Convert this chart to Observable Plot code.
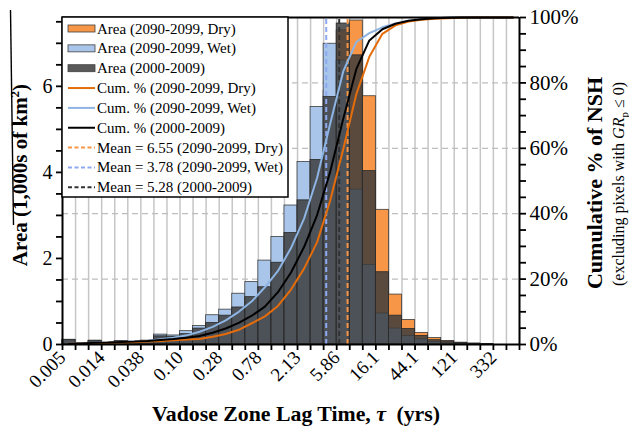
<!DOCTYPE html>
<html><head><meta charset="utf-8">
<script src="https://cdn.jsdelivr.net/npm/d3@7"></script>
<script src="https://cdn.jsdelivr.net/npm/@observablehq/plot@0.6"></script>
<style>
body{margin:0;background:#fff;}
#chart{position:relative;width:629px;height:427px;}
</style></head><body><div id="chart"></div>
<script>
// ---- data ----
const tickLabels = ["0.005","0.014","0.038","0.10","0.28","0.78","2.13","5.86","16.1","44.1","121","332"];
const areaDry  = [0.10,0.02,0.07,0.02,0.06,0.03,0.07,0.14,0.13,0.18,0.22,0.33,0.37,0.60,0.93,0.98,1.49,2.33,2.98,3.77,5.90,7.30,7.53,5.77,3.13,1.16,0.57,0.27,0.15,0.08,0.04,0.02,0.01,0,0];
const areaWet  = [0.10,0.02,0.09,0.02,0.08,0.03,0.09,0.23,0.21,0.31,0.43,0.68,0.81,1.18,1.45,1.95,2.50,3.23,4.24,5.52,6.99,6.60,3.60,1.85,0.72,0.37,0.20,0.12,0.06,0.03,0.02,0.01,0,0,0];
const areaBase = [0.11,0.03,0.08,0.03,0.07,0.04,0.08,0.19,0.18,0.24,0.37,0.50,0.67,0.86,1.10,1.33,1.90,2.59,3.35,4.29,5.75,7.46,6.72,4.03,1.68,0.67,0.36,0.20,0.10,0.07,0.04,0.02,0.01,0,0];
const cumDry  = [0.2,0.2,0.4,0.5,0.6,0.7,0.9,1.1,1.3,1.5,1.7,2.4,3.2,4.5,6.5,8.6,11.8,16.8,23.2,31.3,44.0,59.7,76.5,88.0,95.0,97.6,98.8,99.3,99.6,99.8,99.9,100,100,100,100];
const cumWet  = [0.2,0.3,0.5,0.6,0.8,0.9,1.1,1.6,2.1,2.8,3.9,5.4,7.4,10.0,13.2,17.5,22.5,29.5,38.5,51.0,67.5,83.5,92.5,95.2,97.0,98.2,99.0,99.5,99.8,99.9,100,100,100,100,100];
const cumBase = [0.2,0.3,0.5,0.6,0.8,0.9,1.1,1.4,1.7,2.1,2.6,3.6,4.9,6.6,8.8,11.6,16.0,22.0,29.8,39.6,52.8,69.0,84.2,93.0,96.4,98.1,99.0,99.5,99.8,99.9,100,100,100,100,100];
const meanDry = 6.55, meanWet = 3.78, meanBase = 5.28;
const legendLabels = ["Area (2090-2099, Dry)","Area (2090-2099, Wet)","Area (2000-2009)",
  "Cum. % (2090-2099, Dry)","Cum. % (2090-2099, Wet)","Cum. % (2000-2009)",
  "Mean = 6.55 (2090-2099, Dry)","Mean = 3.78 (2090-2099, Wet)","Mean = 5.28 (2000-2009)"];

// ---- setup ----
const nBins = areaBase.length;
const Y_MAX = 7.6;
const pct = p => p / 100 * Y_MAX;
const binPos = m => Math.log(m / 0.005) / Math.log(1.4) + 0.5; // bin-index position of a lag time
const serif = "'Liberation Serif','Times New Roman',serif";
const C = {dry:"#F79646", wet:"#A9C6EA", base:"rgba(60,60,60,0.84)",
           dryLine:"#E46C0A", wetLine:"#8DB4E2", baseLine:"#000",
           dryMean:"#F79646", wetMean:"#8EA9F2", baseMean:"#333"};
const rows = arr => arr.map((v, i) => ({i, v}));

const chart = Plot.plot({
  width: 629, height: 427,
  marginLeft: 62, marginRight: 110, marginTop: 17, marginBottom: 83,
  x: {type: "linear", domain: [0, nBins]},
  y: {domain: [0, Y_MAX]},
  style: {fontFamily: serif, background: "white", color: "black"},
  marks: [
    Plot.ruleX(d3.range(1, nBins), {stroke: "#c6c6c6", strokeWidth: 1.5}),
    Plot.ruleY([20, 40, 60, 80], {y: pct, stroke: "#bdbdbd", strokeWidth: 1.3, strokeDasharray: "6,4"}),
    Plot.rectY(rows(areaDry), {x1: "i", x2: d => d.i + 1, y: "v", fill: C.dry, stroke: "#3c3c3c", strokeWidth: 0.8}),
    Plot.rectY(rows(areaWet), {x1: "i", x2: d => d.i + 1, y: "v", fill: C.wet, stroke: "#3c3c3c", strokeWidth: 0.8}),
    Plot.rectY(rows(areaBase), {x1: "i", x2: d => d.i + 1, y: "v", fill: C.base, stroke: "#2a2a2a", strokeWidth: 0.8}),
    Plot.ruleX([meanWet], {x: binPos, y1: 0, y2: Y_MAX, stroke: C.wetMean, strokeWidth: 2, strokeDasharray: "5,3"}),
    Plot.ruleX([meanBase], {x: binPos, y1: 0, y2: Y_MAX, stroke: C.baseMean, strokeWidth: 2, strokeDasharray: "5,3"}),
    Plot.ruleX([meanDry], {x: binPos, y1: 0, y2: Y_MAX, stroke: C.dryMean, strokeWidth: 2, strokeDasharray: "5,3"}),
    Plot.lineY(cumWet, {x: (d, i) => i + 0.5, y: pct, stroke: C.wetLine, strokeWidth: 2}),
    Plot.lineY(cumDry, {x: (d, i) => i + 0.5, y: pct, stroke: C.dryLine, strokeWidth: 2}),
    Plot.lineY(cumBase, {x: (d, i) => i + 0.5, y: pct, stroke: C.baseLine, strokeWidth: 2}),
    Plot.ruleY([0, Y_MAX], {stroke: "black", strokeWidth: 2}),
    Plot.ruleX([0, nBins], {stroke: "black", strokeWidth: 2}),
    Plot.axisY({ticks: d3.range(0, 7.51, 0.5), tickFormat: d => d % 2 === 0 ? String(d) : "",
      tickSize: 6, tickPadding: 4, fontSize: 20, strokeWidth: 1.8, label: null}),
    Plot.axisY({anchor: "right", ticks: d3.range(0, 101, 5).map(pct),
      tickFormat: d => { const p = Math.round(d / Y_MAX * 100); return p % 20 === 0 ? p + "%" : ""; },
      tickSize: 6, tickPadding: 4, fontSize: 21, strokeWidth: 1.8, label: null}),
    Plot.axisX({ticks: d3.range(0, nBins + 1), tickFormat: i => (i % 3 === 0 && i / 3 < tickLabels.length) ? tickLabels[i / 3] : "",
      tickSize: 6, tickPadding: 4, tickRotate: -45, textAnchor: "end", fontSize: 19, strokeWidth: 1.8, label: null})
  ]
});
document.getElementById("chart").appendChild(chart);

// ---- titles ----
const svg = d3.select(chart);
const xt = svg.append("text").attr("x", 296).attr("y", 421).attr("text-anchor", "middle")
  .attr("font-family", serif).attr("font-size", 21.8).attr("font-weight", "bold");
xt.append("tspan").text("Vadose Zone Lag Time, ");
xt.append("tspan").attr("font-style", "italic").text("τ");
xt.append("tspan").attr("dx", 5).text(" (yrs)");

const lt = svg.append("text").attr("transform", "translate(27,175) rotate(-90)").attr("text-anchor", "middle")
  .attr("font-family", serif).attr("font-size", 21).attr("font-weight", "bold");
lt.append("tspan").text("Area (1,000s of km");
lt.append("tspan").attr("font-size", 13).attr("dy", -8).text("2");
lt.append("tspan").attr("dy", 8).text(")");
svg.append("line").attr("x1", 10.5).attr("x2", 13.5).attr("y1", 10).attr("y2", 225)
  .attr("stroke", "black").attr("stroke-width", 1.4);

svg.append("text").attr("transform", "translate(602,183) rotate(-90)").attr("text-anchor", "middle")
  .attr("font-family", serif).attr("font-size", 22).attr("font-weight", "bold").text("Cumulative % of NSH");
const st = svg.append("text").attr("transform", "translate(624,184) rotate(-90)").attr("text-anchor", "middle")
  .attr("font-family", serif).attr("font-size", 16);
st.append("tspan").text("(excluding pixels with ");
st.append("tspan").attr("font-style", "italic").text("GR");
st.append("tspan").attr("font-size", 11).attr("dy", 4).text("p");
st.append("tspan").attr("dy", -4).text(" ≤ 0)");

// ---- legend ----
const lg = svg.append("g");
lg.append("rect").attr("x", 62).attr("y", 17).attr("width", 226).attr("height", 180)
  .attr("fill", "white").attr("stroke", "black").attr("stroke-width", 1.5);
const kinds = [
  {t: "rect", c: C.dry}, {t: "rect", c: C.wet}, {t: "rect", c: "#595959"},
  {t: "line", c: C.dryLine}, {t: "line", c: C.wetLine}, {t: "line", c: C.baseLine},
  {t: "dash", c: C.dryMean}, {t: "dash", c: C.wetMean}, {t: "dash", c: C.baseMean}];
legendLabels.forEach((lab, k) => {
  const cy = 28.5 + k * 19.85;
  const kd = kinds[k];
  if (kd.t === "rect") {
    lg.append("rect").attr("x", 68).attr("y", cy - 3.5).attr("width", 27).attr("height", 7)
      .attr("fill", kd.c).attr("stroke", "#404040").attr("stroke-width", 0.8);
  } else {
    lg.append("line").attr("x1", 68).attr("x2", 95).attr("y1", cy).attr("y2", cy)
      .attr("stroke", kd.c).attr("stroke-width", 2).attr("stroke-dasharray", kd.t === "dash" ? "4,2.5" : null);
  }
  lg.append("text").attr("x", 97).attr("y", cy + 5).attr("text-anchor", "start")
    .attr("font-family", serif).attr("font-size", 15).text(lab);
});
</script></body></html>
